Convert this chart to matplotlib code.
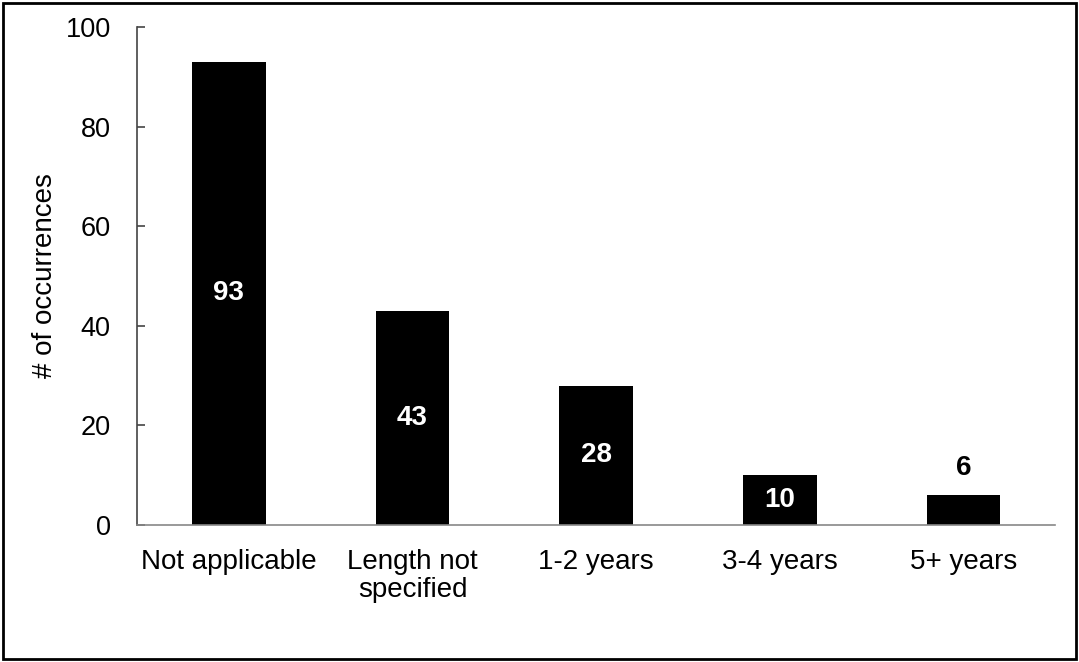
import matplotlib.pyplot as plt
from matplotlib.patches import Rectangle

plt.rcParams['font.family'] = ['Liberation Sans', 'DejaVu Sans']

categories = ['Not applicable', 'Length not\nspecified', '1-2 years', '3-4 years', '5+ years']
counts = [93, 43, 28, 10, 6]


def draw():
    fig = plt.figure(figsize=(10.79, 6.62), dpi=100)
    ax = fig.add_axes([0.127, 0.207, 0.851, 0.752])

    x = range(len(categories))
    ax.bar(x, counts, width=0.4, color='black')

    for i, v in enumerate(counts):
        if v >= 10:
            ax.text(i, v / 2, str(v), ha='center', va='center',
                    color='white', fontsize=20, fontweight='bold')
        else:
            ax.annotate(str(v), (i, v), xytext=(0, 10), textcoords='offset points',
                        ha='center', va='bottom', fontsize=20, fontweight='bold')

    ax.set_xlim(-0.5, 4.5)
    ax.set_ylim(0, 100)
    ax.set_yticks([0, 20, 40, 60, 80, 100])
    ax.set_xticks(list(x))
    ax.set_xticklabels(categories, fontsize=20, linespacing=1.1)
    ax.tick_params(axis='y', direction='in', length=6, width=1.2, pad=19,
                   labelsize=19.5, color='#444444')
    ax.tick_params(axis='x', length=0, pad=17)
    ax.set_ylabel('# of occurrences', fontsize=20, labelpad=5)

    ax.spines['top'].set_visible(False)
    ax.spines['right'].set_visible(False)
    ax.spines['left'].set_color('#444444')
    ax.spines['left'].set_linewidth(1.2)
    ax.spines['bottom'].set_color('#888888')
    ax.spines['bottom'].set_linewidth(1.2)

    fig.patches.append(Rectangle((0.003, 0.004), 0.994, 0.992, transform=fig.transFigure,
                                 fill=False, edgecolor='black', linewidth=2))

    fig.savefig('out.png', dpi=100)


draw()
